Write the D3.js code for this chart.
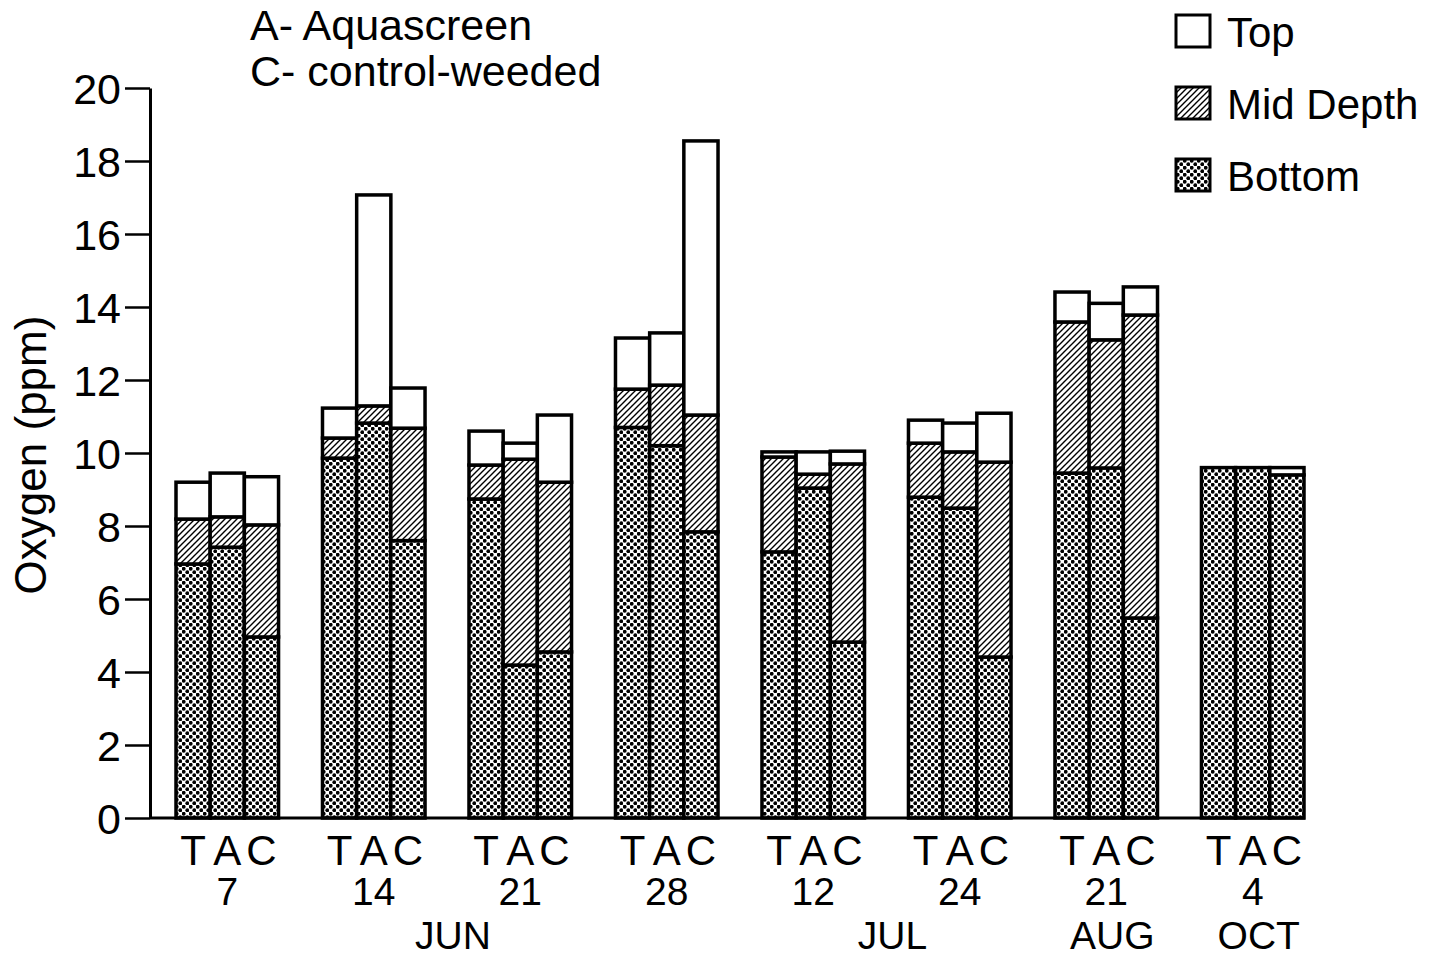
<!DOCTYPE html>
<html>
<head>
<meta charset="utf-8">
<script src="https://cdn.jsdelivr.net/npm/d3@7"></script>
<style>
  body { margin: 0; background: #fff; }
  svg { display: block; font-family: "Liberation Sans", Arial, Helvetica, sans-serif; }
</style>
</head>
<body>
<svg width="1443" height="958"></svg>
<script>
const d3 = window.d3;

// dates (day of month) and months for each group of 3 bars
const days = ["7", "14", "21", "28", "12", "24", "21", "4"];
const months = ["JUN", "JUN", "JUN", "JUN", "JUL", "JUL", "AUG", "OCT"];
const sites = ["T", "A", "C"];

// cumulative levels (ppm) of each layer, per group: [T, A, C]
const bottomLevel = [
	[6.96, 7.42, 4.96], [9.86, 10.82, 7.6], [8.74, 4.19, 4.55], [10.7, 10.2, 7.84],
	[7.29, 9.04, 4.82], [8.79, 8.49, 4.41], [9.45, 9.59, 5.48], [9.6, 9.6, 9.4]
];
const midLevel = [
	[8.19, 8.25, 8.03], [10.41, 11.29, 10.68], [9.67, 9.83, 9.2], [11.75, 11.86, 11.04],
	[9.89, 9.42, 9.7], [10.27, 10.03, 9.75], [13.59, 13.1, 13.78], [9.6, 9.6, 9.4]
];
const topLevel = [
	[9.2, 9.45, 9.35], [11.23, 17.07, 11.78], [10.6, 10.27, 11.04], [13.15, 13.29, 18.55],
	[10.03, 10.03, 10.05], [10.9, 10.82, 11.09], [14.41, 14.1, 14.55], [9.6, 9.6, 9.6]
];
const yTicks = [0, 2, 4, 6, 8, 10, 12, 14, 16, 18, 20];
const legendItems = ["Top", "Mid Depth", "Bottom"];
const notes = ["A- Aquascreen", "C- control-weeded"];

const svg = d3.select("svg");
const axisX = 150;
const fontSize = 42;

const yScale = d3.scaleLinear().domain([0, 20]).range([818, 88]);
const xGroup = d3.scaleBand().domain(d3.range(days.length)).range([176, 1304]).paddingInner(0.3).paddingOuter(0);
const xSite = d3.scaleBand().domain(sites).range([0, xGroup.bandwidth()]);

// fill patterns
const defs = svg.append("defs");
const hatch = defs.append("pattern")
	.attr("id", "hatch").attr("patternUnits", "userSpaceOnUse")
	.attr("width", 6).attr("height", 6);
hatch.append("rect").attr("width", 6).attr("height", 6).attr("fill", "#fff");
hatch.append("path")
	.attr("d", "M0,6L6,0M-1.5,1.5L1.5,-1.5M4.5,7.5L7.5,4.5")
	.attr("stroke", "#000").attr("stroke-width", 1.4);

const dots = defs.append("pattern")
	.attr("id", "dots").attr("patternUnits", "userSpaceOnUse")
	.attr("width", 7).attr("height", 7);
dots.append("rect").attr("width", 7).attr("height", 7).attr("fill", "#fff");
[[1.75, 1.75], [5.25, 5.25]].forEach(p => {
	dots.append("circle").attr("cx", p[0]).attr("cy", p[1]).attr("r", 1.9).attr("fill", "#000");
});

const fills = { Top: "#fff", "Mid Depth": "url(#hatch)", Bottom: "url(#dots)" };

// bars
const barData = [];
days.forEach((d, g) => {
	sites.forEach((s, i) => {
		barData.push({ g, s, layer: "Bottom", y0: 0, y1: bottomLevel[g][i] });
		barData.push({ g, s, layer: "Mid Depth", y0: bottomLevel[g][i], y1: midLevel[g][i] });
		barData.push({ g, s, layer: "Top", y0: midLevel[g][i], y1: topLevel[g][i] });
	});
});

svg.append("g").selectAll("rect")
	.data(barData.filter(d => d.y1 > d.y0))
	.join("rect")
	.attr("x", d => xGroup(d.g) + xSite(d.s))
	.attr("width", xSite.bandwidth())
	.attr("y", d => yScale(d.y1))
	.attr("height", d => yScale(d.y0) - yScale(d.y1))
	.attr("fill", d => fills[d.layer])
	.attr("stroke", "#000")
	.attr("stroke-width", 3.5);

// y axis
const yAxis = svg.append("g")
	.attr("transform", `translate(${axisX},0)`)
	.call(d3.axisLeft(yScale).tickValues(yTicks).tickSize(25).tickPadding(4).tickSizeOuter(0));
yAxis.select(".domain").attr("stroke-width", 3);
yAxis.selectAll(".tick line").attr("stroke-width", 2.5);
yAxis.selectAll(".tick text")
	.attr("font-size", 43).attr("font-family", "Liberation Sans, Arial, sans-serif")
	.attr("fill", "#000").attr("dy", "0.36em");

// x baseline
svg.append("line")
	.attr("x1", axisX).attr("x2", 1305)
	.attr("y1", yScale(0)).attr("y2", yScale(0))
	.attr("stroke", "#000").attr("stroke-width", 3);

// y title
svg.append("text")
	.attr("transform", `translate(46,${455}) rotate(-90)`)
	.attr("text-anchor", "middle")
	.attr("font-size", 44)
	.text("Oxygen (ppm)");

// x labels
const labels = svg.append("g").attr("font-size", fontSize).attr("text-anchor", "middle");
days.forEach((d, g) => {
	sites.forEach(s => {
		labels.append("text")
			.attr("x", xGroup(g) + xSite(s) + xSite.bandwidth() / 2)
			.attr("y", 865)
			.text(s);
	});
	labels.append("text")
		.attr("x", xGroup(g) + xGroup.bandwidth() / 2)
		.attr("y", 905)
		.attr("font-size", 39)
		.text(d);
});
const monthNames = [...new Set(months)];
monthNames.forEach(m => {
	const idx = d3.range(months.length).filter(i => months[i] === m);
	const cx = d3.mean(idx, i => xGroup(i) + xGroup.bandwidth() / 2);
	labels.append("text").attr("x", cx + 6).attr("y", 949).attr("font-size", 39).text(m);
});

// notes
svg.append("g").attr("font-size", 43)
	.selectAll("text").data(notes).join("text")
	.attr("x", 250).attr("y", (d, i) => 40 + i * 46)
	.text(d => d);

// legend
const legend = svg.append("g").selectAll("g").data(legendItems).join("g")
	.attr("transform", (d, i) => `translate(1176,${15 + i * 72})`);
legend.append("rect")
	.attr("width", 34).attr("height", 32)
	.attr("fill", d => fills[d])
	.attr("stroke", "#000").attr("stroke-width", 3);
legend.append("text")
	.attr("x", 51).attr("y", 32)
	.attr("font-size", fontSize)
	.text(d => d);
</script>
</body>
</html>
